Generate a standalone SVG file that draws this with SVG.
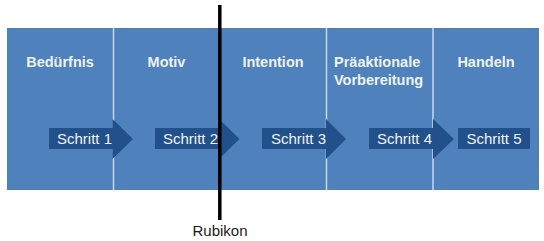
<svg xmlns="http://www.w3.org/2000/svg" width="544" height="241" viewBox="0 0 544 241">
<style>
.col{fill:#4f81bd;}
.div{stroke:#c9d7ea;stroke-width:1.5;}
.arr{fill:#21508a;}
.title{font-family:"Liberation Sans",Arial,sans-serif;font-weight:bold;font-size:14.5px;fill:#eef2f8;}
.step{font-family:"Liberation Sans",Arial,sans-serif;font-size:15px;fill:#eef2f8;}
.rub{font-family:"Liberation Sans",Arial,sans-serif;font-size:15px;fill:#1a1a1a;}
</style>
<rect x="0" y="0" width="544" height="241" fill="#ffffff"/>
<g id="col1"><rect class="col" x="7" y="28" width="106.5" height="162"/><text class="title" x="60" y="67" text-anchor="middle">Bedürfnis</text></g>
<g id="col2"><rect class="col" x="113.5" y="28" width="106.5" height="162"/><text class="title" x="166.5" y="67" text-anchor="middle">Motiv</text></g>
<g id="col3"><rect class="col" x="220" y="28" width="106.5" height="162"/><text class="title" x="273" y="67" text-anchor="middle">Intention</text></g>
<g id="col4"><rect class="col" x="326.5" y="28" width="106.5" height="162"/><text class="title" x="334" y="67">Präaktionale</text><text class="title" x="334" y="85">Vorbereitung</text></g>
<g id="col5"><rect class="col" x="433" y="28" width="106" height="162"/><text class="title" x="486" y="67" text-anchor="middle">Handeln</text></g>
<g id="dividers">
<line class="div" x1="113.5" y1="28" x2="113.5" y2="190"/>
<line class="div" x1="220" y1="28" x2="220" y2="190"/>
<line class="div" x1="326.5" y1="28" x2="326.5" y2="190"/>
<line class="div" x1="433" y1="28" x2="433" y2="190"/>
</g>
<g id="connectors">
<g id="step1"><polygon class="arr" points="49,128 112.5,128 112.5,119 133,139 112.5,159 112.5,149 49,149"/><text class="step" x="57" y="144">Schritt 1</text></g>
<g id="step2"><polygon class="arr" points="155,128 219,128 219,119 239.5,139 219,159 219,149 155,149"/><text class="step" x="163" y="144">Schritt 2</text></g>
<g id="step3"><polygon class="arr" points="262,128 326,128 326,119 346,139 326,159 326,149 262,149"/><text class="step" x="271" y="144">Schritt 3</text></g>
<g id="step4"><polygon class="arr" points="369,128 433,128 433,119 454,139 433,159 433,149 369,149"/><text class="step" x="377" y="144">Schritt 4</text></g>
<g id="step5"><rect class="arr" x="458" y="128" width="72" height="21"/><text class="step" x="494" y="144" text-anchor="middle">Schritt 5</text></g>
</g>
<g id="rubikon">
<line x1="219.8" y1="5" x2="219.8" y2="220" stroke="#000000" stroke-width="3.5"/>
<text class="rub" x="220" y="236" text-anchor="middle">Rubikon</text>
</g>
</svg>
